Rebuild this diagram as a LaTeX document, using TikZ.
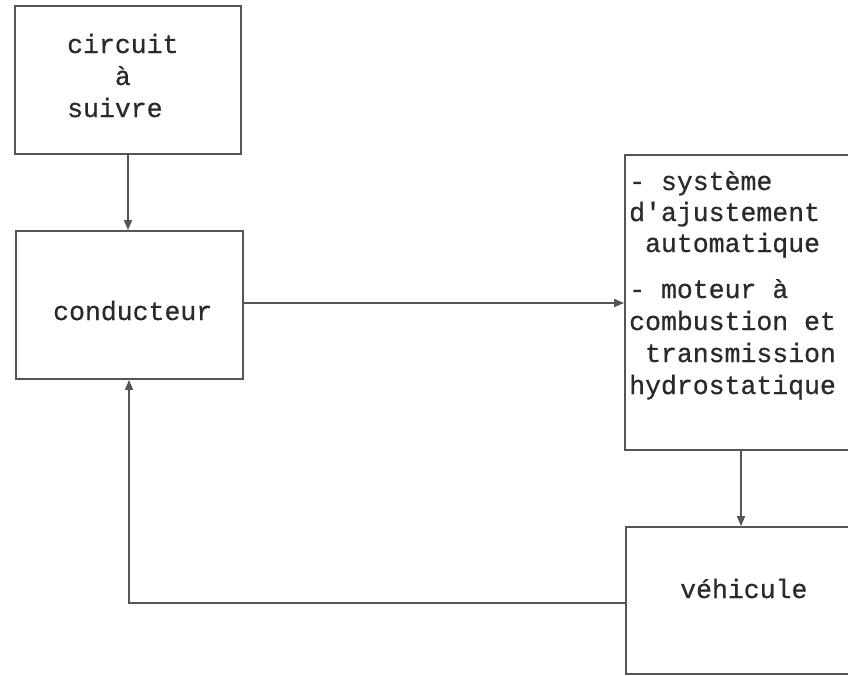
\documentclass[tikz,border=0pt]{standalone}
\usepackage{fontspec}
\setmonofont[FakeBold=0.6]{Liberation Mono}
\usetikzlibrary{arrows.meta}
\definecolor{ink}{HTML}{2A2A2A}
\definecolor{rule}{HTML}{555555}
\tikzset{
  box/.style={draw=rule, line width=1.8pt, minimum width=#1, inner sep=0pt},
  label text/.style={text=ink, font=\ttfamily\fontsize{26.5}{32}\selectfont, inner sep=0pt, anchor=base west},
  flow/.style={draw=rule, line width=1.5pt, -{Triangle[length=10pt,width=8pt]}}
}
\begin{document}
\begin{tikzpicture}[x=1pt, y=-1pt]
  \useasboundingbox (0,0) rectangle (848,675);
  \clip (0,0) rectangle (848,675);
  \fill[white] (0,0) rectangle (848,675);

  % boxes (corner to corner)
  \node[box=226pt, minimum height=148pt] (circ) at (128,80) {};
  \node[box=227pt, minimum height=148pt] (cond) at (129.5,305) {};
  \node[box=232pt, minimum height=295pt] (sys)  at (741,302.5) {};
  \node[box=232pt, minimum height=147pt] (veh)  at (742,600.5) {};

  % texts, one node per typed line
  \node[label text] (circ1) at (67,53) {circuit};
  \node[label text] (circ2) at (67,85) {\phantom{cir}à};
  \node[label text] (circ3) at (67,117) {suivre};
  \node[label text] (cond1) at (53,320) {conducteur};
  \node[label text] (sys1) at (629,190) {- système};
  \node[label text] (sys2) at (629,221) {d'ajustement};
  \node[label text] (sys3) at (629,252) {\phantom{x}automatique};
  \node[label text] (sys4) at (629,298) {- moteur à};
  \node[label text] (sys5) at (629,330) {combustion et};
  \node[label text] (sys6) at (629,362) {\phantom{x}transmission};
  \node[label text] (sys7) at (629,394) {hydrostatique};
  \node[label text] (veh1) at (680,598) {véhicule};

  % connectors
  \draw[flow] (circ.south) -- (circ.south |- cond.north);
  \draw[flow] (cond.east |- 0,303) coordinate (c1) -- (c1 -| sys.west);
  \draw[flow] (sys.south) -- (sys.south |- veh.north);
  \coordinate (fb) at (129,603);
  \draw[flow] (veh.west |- fb) -- (fb) -- (fb |- cond.south);
\end{tikzpicture}
\end{document}
